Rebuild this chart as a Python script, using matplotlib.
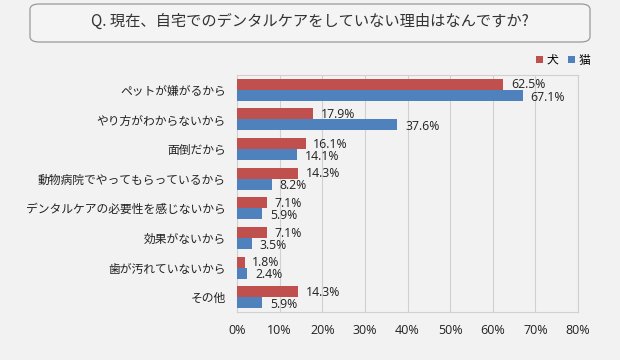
import matplotlib
matplotlib.use("Agg")
import matplotlib.pyplot as plt
from matplotlib.patches import FancyBboxPatch
import numpy as np

plt.rcParams['font.family'] = ['Noto Sans CJK JP', 'DejaVu Sans']

categories = ["ペットが嫌がるから", "やり方がわからないから", "面倒だから", "動物病院でやってもらっているから",
              "デンタルケアの必要性を感じないから", "効果がないから", "歯が汚れていないから", "その他"]
dog = [62.5, 17.9, 16.1, 14.3, 7.1, 7.1, 1.8, 14.3]
cat = [67.1, 37.6, 14.1, 8.2, 5.9, 3.5, 2.4, 5.9]
series_names = ["犬", "猫"]
title = "Q. 現在、自宅でのデンタルケアをしていない理由はなんですか?"

bg = "#f2f2f2"
red = "#c0504d"
blue = "#4f81bd"

fig = plt.figure(figsize=(6.2, 3.6), dpi=100, facecolor=bg)

# title box
box = FancyBboxPatch((30/620, 1-42/360), 560/620, 38/360,
                     boxstyle="round,pad=0,rounding_size=0.015",
                     transform=fig.transFigure, facecolor="#f4f4f4",
                     edgecolor="#9a9a9a", linewidth=0.9)
fig.patches.append(box)
fig.text(310/620, 1-21/360, title, ha="center", va="center", fontsize=11, color="#333333")

ax = fig.add_axes([237/620, 1-312/360, 341/620, (312-75)/360])
ax.set_facecolor(bg)

n = len(categories)
y = np.arange(n)
h = 0.37
ax.barh(y - h/2, dog, height=h, color=red, label=series_names[0], zorder=3)
ax.barh(y + h/2, cat, height=h, color=blue, label=series_names[1], zorder=3)

for i in range(n):
    ax.text(dog[i] + 1.8, y[i] - h/2 + 0.02, f"{dog[i]:.1f}%", va="center", ha="left", fontsize=8.8,
            family="Open Sans", color="#222222", zorder=4)
    ax.text(cat[i] + 1.8, y[i] + h/2 + 0.06, f"{cat[i]:.1f}%", va="center", ha="left", fontsize=8.8,
            family="Open Sans", color="#222222", zorder=4)

ax.set_ylim(n - 0.5, -0.5)
ax.set_xlim(0, 80)
ax.set_xticks(np.arange(0, 81, 10))
ax.set_xticklabels([f"{v}%" for v in range(0, 81, 10)], fontsize=9, color="#222222", family="Open Sans")
ax.set_yticks(y)
ax.set_yticklabels(categories, fontsize=8.5, color="#222222")
ax.tick_params(axis="both", length=0)
ax.tick_params(axis="x", pad=9)
ax.tick_params(axis="y", pad=8)
ax.grid(axis="x", color="#d0d0d0", linewidth=0.8, zorder=0)
for s in ax.spines.values():
    s.set_color("#d0d0d0")
    s.set_linewidth(0.8)

leg = ax.legend(loc="lower right", bbox_to_anchor=(1.06, 1.0), ncol=2, frameon=False,
                fontsize=8.5, handlelength=0.6, handleheight=0.6, handletextpad=0.3,
                columnspacing=0.8, borderpad=0.2)

fig.savefig("out.png", dpi=100, facecolor=bg)
